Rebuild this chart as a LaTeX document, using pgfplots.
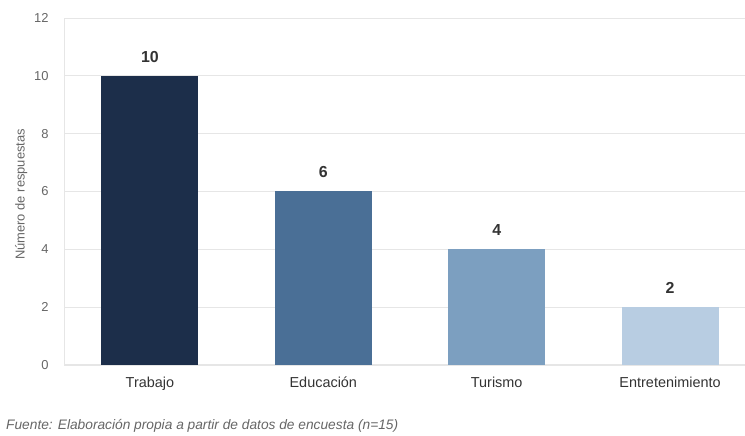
\documentclass[border=0pt]{standalone}
\usepackage{pgfplots}
\pgfplotsset{compat=1.18}
\usepackage{fontspec}
\setmainfont{Liberation Sans}
\definecolor{c1}{HTML}{1C2E4A}
\definecolor{c2}{HTML}{4A6F96}
\definecolor{c3}{HTML}{7C9FC0}
\definecolor{c4}{HTML}{B8CDE2}
\definecolor{gridc}{HTML}{E6E6E6}
\definecolor{tickc}{HTML}{666666}
\begin{document}
\begin{tikzpicture}
\begin{axis}[
  scale only axis, width=681bp, height=347bp,
  ymin=0, ymax=12, ytick={0,2,...,12},
  xmin=-0.496, xmax=3.43,
  xtick={0,1,2,3}, xticklabels={Trabajo,Educación,Turismo,Entretenimiento},
  axis x line*=bottom, axis y line*=left,
  axis line style={draw=gridc},
  x axis line style={-}, y axis line style={-},
  major tick length=0pt,
  ymajorgrids, grid style={draw=gridc, line width=0.8pt},
  yticklabel style={font=\fontsize{13}{15}\selectfont, text=tickc, xshift=-12bp},
  xticklabel style={font=\fontsize{14.5}{16}\selectfont, text=black!80, yshift=-9bp},
  /pgf/number format/assume math mode=true,
  ylabel={Número de respuestas},
  every axis y label/.style={at={(ticklabel cs:0.5)}, rotate=90, anchor=south, xshift=-3bp,
    font=\fontsize{13}{15}\selectfont, text=tickc},
  ybar, bar width=97bp, bar shift=0pt,
  nodes near coords,
  every node near coord/.append style={font=\bfseries\fontsize{16}{18}\selectfont, text=black!80, yshift=10bp},
  clip=false,
]
\addplot[fill=c1, draw=none] coordinates {(0,10)};
\addplot[fill=c2, draw=none] coordinates {(1,6)};
\addplot[fill=c3, draw=none] coordinates {(2,4)};
\addplot[fill=c4, draw=none] coordinates {(3,2)};
\end{axis}
\path (current axis.south west) ++(-64bp,-71bp) coordinate (bl) rectangle ++(745bp,436bp);
\node[anchor=base west, font=\itshape\fontsize{13.8}{15}\selectfont, text=tickc, inner sep=0pt] at ([xshift=6bp,yshift=6bp]bl) {Fuente: Elaboración propia a partir de datos de encuesta (n=15)};
\end{tikzpicture}
\end{document}
